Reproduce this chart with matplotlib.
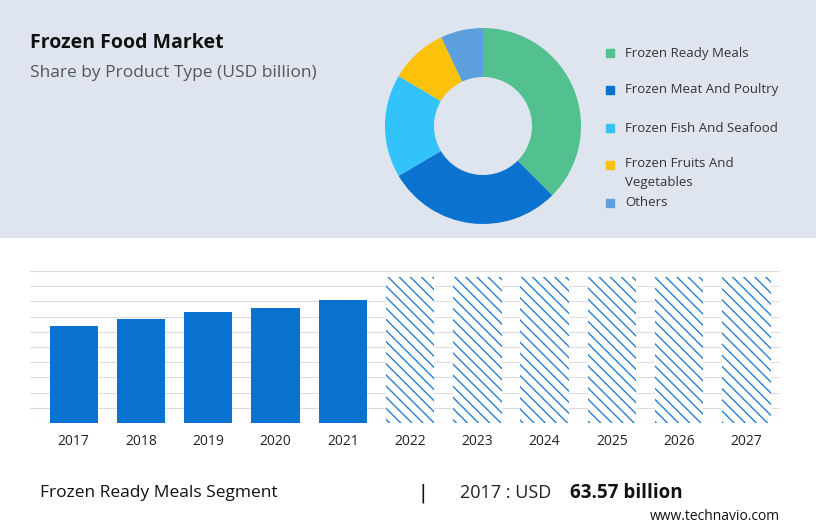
import matplotlib
matplotlib.use('Agg')
from matplotlib import pyplot as plt

segments = ['Frozen Ready Meals', 'Frozen Meat And Poultry', 'Frozen Fish And Seafood',
            'Frozen Fruits And\nVegetables', 'Others']
shares = [37.5, 29, 17, 9.5, 7]
colors = ['#52c08f', '#0a72cf', '#33c3fb', '#fbc10b', '#5b9fdc']

years = ['2017', '2018', '2019', '2020', '2021', '2022', '2023', '2024', '2025', '2026', '2027']
values = [63.57, 68.2, 72.7, 75.4, 80.6]
forecast = [96, 96, 96, 96, 96, 96]

W, H = 816, 528
fig = plt.figure(figsize=(W / 100, H / 100), dpi=100)
fig.patch.set_facecolor('white')

# top panel background
bg = fig.add_axes([0, 1 - 238 / H, 1, 238 / H])
bg.set_facecolor('#dfe5ef')
bg.set_xticks([]); bg.set_yticks([])
for s in bg.spines.values():
    s.set_visible(False)

fig.text(30 / W, 1 - 43 / H, 'Frozen Food Market', fontsize=14, fontweight='bold',
         color='#111111', va='center', family='Open Sans')
fig.text(30 / W, 1 - 73 / H, 'Share by Product Type (USD billion)', fontsize=12.5,
         color='#555555', va='center', family='Open Sans')

# donut
r = 98
pie = fig.add_axes([(483 - r) / W, 1 - (126 + r) / H, 2 * r / W, 2 * r / H])
pie.pie(shares, colors=colors, startangle=90, counterclock=False,
        wedgeprops=dict(width=0.5, linewidth=0))
pie.set_xlim(-1, 1)
pie.set_ylim(-1, 1)
pie.set_aspect('equal')

for i, (lab, c) in enumerate(zip(segments, colors)):
    y = [53, 90, 128, 165, 203][i]
    fig.patches.append(plt.Rectangle((606 / W, 1 - (y + 4) / H), 8 / W, 8 / H,
                                     color=c, transform=fig.transFigure))
    fig.text(625 / W, 1 - y / H, lab, fontsize=9.5, color='#333333', va='top' if '\n' in lab else 'center',
             family='Open Sans', linespacing=1.6)
# adjust multi-line label position
fig.texts[-2].set_y(1 - 157 / H)

# bar chart
ax = fig.add_axes([30 / W, 1 - 423 / H, 750 / W, 152 / H])
x = list(range(len(years)))
ax.bar(x[:5], values, width=0.72, color='#0a72cf', zorder=3)
ax.bar(x[5:], forecast, width=0.72, color='white', edgecolor='#2a7fcf',
       hatch='\\\\\\', linewidth=0, zorder=3)
ax.set_ylim(0, 100)
ax.set_xlim(-0.65, 10.5)
ax.set_yticks(range(0, 101, 10))
ax.yaxis.grid(True, color='#dddddd', linewidth=0.8)
ax.set_yticklabels([])
ax.tick_params(axis='y', length=0)
ax.tick_params(axis='x', length=0, pad=8)
ax.set_xticks(x)
ax.set_xticklabels(years, fontsize=10, color='#222222', family='Open Sans')
for s in ax.spines.values():
    s.set_visible(False)
ax.axhline(0, color='#cccccc', linewidth=0.8)

fig.text(40 / W, 1 - 493 / H, 'Frozen Ready Meals Segment', fontsize=12.5, color='#111111',
         va='center', family='Open Sans')
fig.text(420 / W, 1 - 493 / H, '|', fontsize=14, color='#111111', va='center')
fig.text(460 / W, 1 - 493 / H, '2017 : USD', fontsize=13, color='#222222', va='center',
         family='Open Sans')
fig.text(570 / W, 1 - 493 / H, '63.57 billion', fontsize=13.5, fontweight='bold',
         color='#111111', va='center', family='Open Sans')
fig.text(650 / W, 1 - 516 / H, 'www.technavio.com', fontsize=10, color='#111111',
         va='center', family='Open Sans')

fig.savefig('out.png', dpi=100, facecolor=fig.get_facecolor())
